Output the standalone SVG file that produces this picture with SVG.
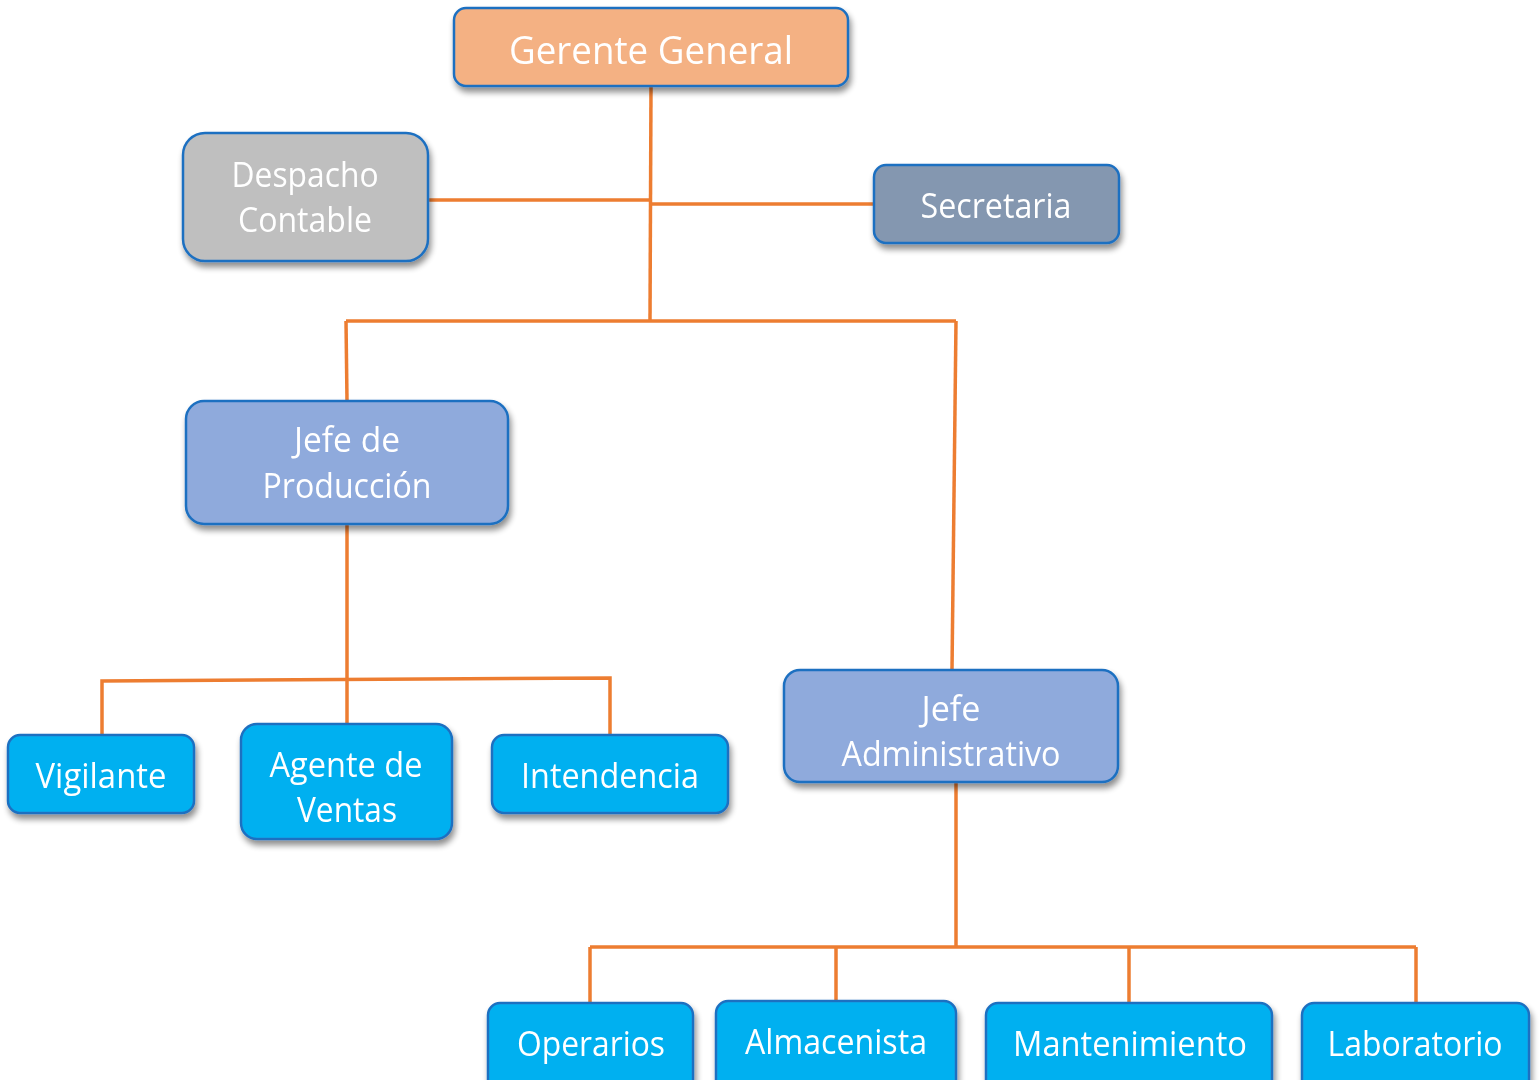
<svg xmlns="http://www.w3.org/2000/svg" width="1539" height="1080" viewBox="0 0 1539 1080">
<style>
.box{stroke:#1F70C1;stroke-width:2.5}
.t{font-family:"Open Sans","Noto Sans","Liberation Sans",sans-serif;font-size:34px;fill:#FFFFFF;text-anchor:middle}
.big{font-size:38px}
.c{fill:none;stroke:#ED7D31;stroke-width:3.5}
.top{fill:#F4B183}.grey{fill:#BFBFBF}.slate{fill:#8497B0}.jefe{fill:#8FAADC}.leaf{fill:#00B0F0}
</style>
<defs>
<filter id="sh" x="-10%" y="-10%" width="130%" height="140%">
<feGaussianBlur in="SourceAlpha" stdDeviation="3"/>
<feOffset dx="2" dy="5" result="b"/>
<feComponentTransfer><feFuncA type="linear" slope="0.45"/></feComponentTransfer>
<feMerge><feMergeNode/><feMergeNode in="SourceGraphic"/></feMerge>
</filter>
</defs>
<rect width="1539" height="1080" fill="#FFFFFF"/>
<g id="connectors">
<path class="c" d="M651,86 L650,321"/>
<path class="c" d="M428,200 L651,200"/>
<path class="c" d="M651,204 L874,204"/>
<path class="c" d="M346,321 L956,321"/>
<path class="c" d="M346,321 L347,401"/>
<path class="c" d="M956,321 L952,670"/>
<path class="c" d="M347,524 L347,724"/>
<path class="c" d="M102,735 L102,681 L610,678 L610,735"/>
<path class="c" d="M956,782 L956,947"/>
<path class="c" d="M590,947 L1416,947"/>
<path class="c" d="M590,947 L590,1003"/>
<path class="c" d="M836,947 L836,1001"/>
<path class="c" d="M1129,947 L1129,1003"/>
<path class="c" d="M1416,947 L1416,1003"/>
</g>
<g id="gerente" filter="url(#sh)">
<rect class="box top" x="454" y="8" width="394" height="78" rx="12"/>
<text class="t big" x="651" y="64" textLength="284" lengthAdjust="spacingAndGlyphs">Gerente General</text>
</g>
<g id="despacho" filter="url(#sh)">
<rect class="box grey" x="183" y="133" width="245" height="128" rx="22"/>
<text class="t" x="305" y="187" textLength="147" lengthAdjust="spacingAndGlyphs">Despacho</text>
<text class="t" x="305" y="232" textLength="134" lengthAdjust="spacingAndGlyphs">Contable</text>
</g>
<g id="secretaria" filter="url(#sh)">
<rect class="box slate" x="874" y="165" width="245" height="78" rx="12"/>
<text class="t" x="996" y="218" textLength="151" lengthAdjust="spacingAndGlyphs">Secretaria</text>
</g>
<g id="jefe-produccion" filter="url(#sh)">
<rect class="box jefe" x="186" y="401" width="322" height="123" rx="18"/>
<text class="t" x="347" y="452" textLength="106" lengthAdjust="spacingAndGlyphs">Jefe de</text>
<text class="t" x="347" y="498" textLength="169" lengthAdjust="spacingAndGlyphs">Producción</text>
</g>
<g id="jefe-administrativo" filter="url(#sh)">
<rect class="box jefe" x="784" y="670" width="334" height="112" rx="16"/>
<text class="t" x="951" y="721" textLength="59" lengthAdjust="spacingAndGlyphs">Jefe</text>
<text class="t" x="951" y="766" textLength="219" lengthAdjust="spacingAndGlyphs">Administrativo</text>
</g>
<g id="vigilante" filter="url(#sh)">
<rect class="box leaf" x="8" y="735" width="186" height="78" rx="12"/>
<text class="t" x="101" y="788" textLength="131" lengthAdjust="spacingAndGlyphs">Vigilante</text>
</g>
<g id="agente-ventas" filter="url(#sh)">
<rect class="box leaf" x="241" y="724" width="211" height="115" rx="16"/>
<text class="t" x="346" y="777" textLength="153" lengthAdjust="spacingAndGlyphs">Agente de</text>
<text class="t" x="347" y="822" textLength="100" lengthAdjust="spacingAndGlyphs">Ventas</text>
</g>
<g id="intendencia" filter="url(#sh)">
<rect class="box leaf" x="492" y="735" width="236" height="78" rx="12"/>
<text class="t" x="610" y="788" textLength="178" lengthAdjust="spacingAndGlyphs">Intendencia</text>
</g>
<g id="operarios" filter="url(#sh)">
<rect class="box leaf" x="488" y="1003" width="205" height="90" rx="12"/>
<text class="t" x="591" y="1056" textLength="148" lengthAdjust="spacingAndGlyphs">Operarios</text>
</g>
<g id="almacenista" filter="url(#sh)">
<rect class="box leaf" x="716" y="1001" width="240" height="92" rx="12"/>
<text class="t" x="836" y="1054" textLength="182" lengthAdjust="spacingAndGlyphs">Almacenista</text>
</g>
<g id="mantenimiento" filter="url(#sh)">
<rect class="box leaf" x="986" y="1003" width="286" height="90" rx="12"/>
<text class="t" x="1130" y="1056" textLength="234" lengthAdjust="spacingAndGlyphs">Mantenimiento</text>
</g>
<g id="laboratorio" filter="url(#sh)">
<rect class="box leaf" x="1302" y="1003" width="227" height="90" rx="12"/>
<text class="t" x="1415" y="1056" textLength="175" lengthAdjust="spacingAndGlyphs">Laboratorio</text>
</g>
</svg>
